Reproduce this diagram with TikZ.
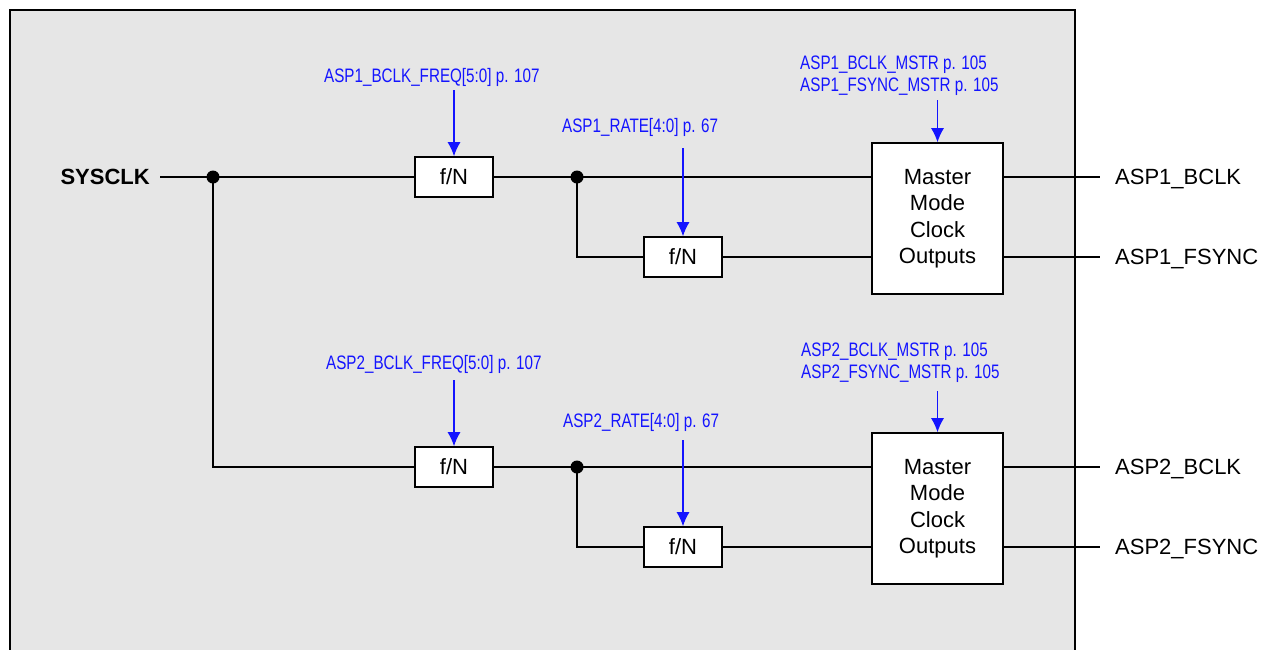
\documentclass[tikz,border=0pt]{standalone}
\usepackage{fontspec}
\setmainfont{Liberation Sans}
\newfontfamily\narrowfont[FakeStretch=0.78]{Liberation Sans}
\usetikzlibrary{arrows.meta}
\definecolor{panelgray}{HTML}{E6E6E6}
\definecolor{refblue}{HTML}{1414FF}
\tikzset{
  wire/.style={line width=1.7pt, black},
  divbox/.style={draw, line width=1.7pt, fill=white, minimum width=78pt, minimum height=40pt, inner sep=0pt,
    font=\fontsize{22}{26.5}\selectfont},
  mmbox/.style={draw, line width=1.7pt, fill=white, minimum width=131pt, minimum height=151pt, inner sep=0pt,
    align=center, font=\fontsize{22}{26.5}\selectfont},
  sig/.style={inner sep=0pt, text height=15.8pt, text depth=0pt, font=\fontsize{22}{26.5}\selectfont},
  reg/.style={inner sep=0pt, text height=14pt, text depth=0pt, text=refblue, anchor=west,
    font=\narrowfont\fontsize{19.5}{22}\selectfont},
  regarrow/.style={refblue, line width=1.1pt, -{Latex[length=14pt,width=13pt]}},
  junction/.style={fill=black}
}
\begin{document}
\begin{tikzpicture}[x=1pt,y=-1pt]
\useasboundingbox (0,0) rectangle (1265,649);
\clip (0,0) rectangle (1265,649);
\fill[white] (0,0) rectangle (1265,649);
\draw[line width=2.2pt, fill=panelgray] (10,10) rectangle (1075,680);

% signal names
\node[sig, font=\bfseries\fontsize{22}{26.5}\selectfont, anchor=east] (sysclk) at (150,177) {SYSCLK};
\node[sig, anchor=west] (o1) at (1115,177) {ASP1\_BCLK};
\node[sig, anchor=west] (o2) at (1115,257) {ASP1\_FSYNC};
\node[sig, anchor=west] (o3) at (1115,467) {ASP2\_BCLK};
\node[sig, anchor=west] (o4) at (1115,547) {ASP2\_FSYNC};

% junctions
\coordinate (d1) at (213,177);
\coordinate (d2) at (577,177);
\coordinate (d3) at (577,467);

% blocks
\node[divbox] (fn1) at (454,177) {f/N};
\node[divbox] (fn2) at (683,257) {f/N};
\node[divbox] (fn3) at (454,467) {f/N};
\node[divbox] (fn4) at (683,547) {f/N};
\node[mmbox] (mm1) at (937.5,218.5) {Master\\Mode\\Clock\\Outputs};
\node[mmbox] (mm2) at (937.5,508.5) {Master\\Mode\\Clock\\Outputs};

% output line ends
\coordinate (e1) at (1100,177);
\coordinate (e2) at (1100,257);
\coordinate (e3) at (1100,467);
\coordinate (e4) at (1100,547);

% wires
\draw[wire] (160,177) coordinate (s0) -- (d1) -- (fn1.west);
\draw[wire] (fn1.east) -- (d2) -- (d2 -| mm1.west);
\draw[wire] (d2) |- (fn2.west);
\draw[wire] (fn2.east) -- (fn2.east -| mm1.west);
\draw[wire] (d1) |- (fn3.west);
\draw[wire] (fn3.east) -- (d3) -- (d3 -| mm2.west);
\draw[wire] (d3) |- (fn4.west);
\draw[wire] (fn4.east) -- (fn4.east -| mm2.west);
\draw[wire] (e1 -| mm1.east) -- (e1);
\draw[wire] (e2 -| mm1.east) -- (e2);
\draw[wire] (e3 -| mm2.east) -- (e3);
\draw[wire] (e4 -| mm2.east) -- (e4);
\fill[junction] (d1) circle (6.5);
\fill[junction] (d2) circle (6.5);
\fill[junction] (d3) circle (6.5);

% register labels
\node[reg] (r1) at (324,75) {ASP1\_BCLK\_FREQ[5:0] p. 107};
\node[reg] (r2) at (562,125) {ASP1\_RATE[4:0] p. 67};
\node[reg] (r3a) at (800,62) {ASP1\_BCLK\_MSTR p. 105};
\node[reg] (r3b) at (800,84) {ASP1\_FSYNC\_MSTR p. 105};
\node[reg] (r4) at (326,362) {ASP2\_BCLK\_FREQ[5:0] p. 107};
\node[reg] (r5) at (563,420) {ASP2\_RATE[4:0] p. 67};
\node[reg] (r6a) at (801,349) {ASP2\_BCLK\_MSTR p. 105};
\node[reg] (r6b) at (801,371) {ASP2\_FSYNC\_MSTR p. 105};

\coordinate (a1) at (454,90);
\coordinate (a2) at (683,148);
\coordinate (a3) at (937.5,100);
\coordinate (a4) at (454,380);
\coordinate (a5) at (683,440);
\coordinate (a6) at (937.5,391);
\draw[regarrow] (a1) -- (fn1.north);
\draw[regarrow] (a2) -- (fn2.north);
\draw[regarrow] (a3) -- (mm1.north);
\draw[regarrow] (a4) -- (fn3.north);
\draw[regarrow] (a5) -- (fn4.north);
\draw[regarrow] (a6) -- (mm2.north);
\end{tikzpicture}
\end{document}
